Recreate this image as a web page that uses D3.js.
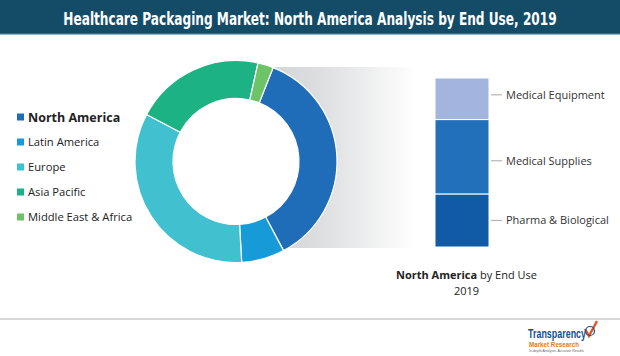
<!DOCTYPE html>
<html><head><meta charset="utf-8">
<script src="https://cdn.jsdelivr.net/npm/d3@7"></script>
<style>body{margin:0;background:#fff}svg{display:block}</style>
</head><body><div id="chart"></div>
<script>
const titleText = "Healthcare Packaging Market: North America Analysis by End Use, 2019";
const regions = ["North America", "Latin America", "Europe", "Asia Pacific", "Middle East & Africa"];
const regionShares = [36.2, 6.9, 33.6, 20.8, 2.5];
const regionColors = ["#1f6db8", "#169bd8", "#41c1d0", "#1cb284", "#6dc466"];
const endUses = ["Pharma & Biological", "Medical Supplies", "Medical Equipment"];
const endUseShares = [31.4, 44.0, 24.6];
const endUseColors = ["#105aa6", "#2170b9", "#a3b5de"];
const captionBold = "North America";
const captionRest = " by End Use";
const captionYear = "2019";

const W = 620, H = 356;
const svg = d3.select("#chart").append("svg").attr("width", W).attr("height", H);
const defs = svg.append("defs");

// Title bar
svg.append("rect").attr("x",0).attr("y",0).attr("width",W).attr("height",34).attr("fill","#144c67");
svg.append("rect").attr("x",0).attr("y",33).attr("width",W).attr("height",1.5).attr("fill","#2f6f8c");
const tg = svg.append("g").attr("transform","translate(310,24.5)");
const title = tg.append("text").attr("x",0).attr("y",0).attr("text-anchor","middle")
  .attr("fill","#fff").attr("font-family","'DejaVu Sans Condensed','Liberation Sans Narrow',Arial,sans-serif")
  .attr("font-weight","bold").attr("font-size",17.5)
  .text(titleText);
const tw = title.node().getComputedTextLength();
if (tw > 0) tg.attr("transform", `translate(310,24.5) scale(${494/tw},1)`);

// Donut geometry
const cx = 236, cy = 161.5, rOuter = 101, rInner = 63;

// Gray projection band
const grad = defs.append("linearGradient").attr("id","band").attr("x1","0").attr("x2","1").attr("y1","0").attr("y2","0");
grad.append("stop").attr("offset","0").attr("stop-color","#cfd0d3");
grad.append("stop").attr("offset","0.45").attr("stop-color","#dcdddf");
grad.append("stop").attr("offset","1").attr("stop-color","#ffffff");
svg.append("rect").attr("x",cx).attr("y",67).attr("width",180).attr("height",181).attr("fill","url(#band)");
svg.append("circle").attr("cx",cx).attr("cy",cy).attr("r",rInner).attr("fill","#fff");

// Donut
const startDeg = 21.6;
const pie = d3.pie().sort(null).value(d => d)
  .startAngle(startDeg*Math.PI/180).endAngle(startDeg*Math.PI/180 + 2*Math.PI);
const arc = d3.arc().innerRadius(rInner).outerRadius(rOuter);
const g = svg.append("g").attr("transform",`translate(${cx},${cy})`);
g.selectAll("path").data(pie(regionShares)).join("path")
  .attr("d",arc).attr("fill",(d,i)=>regionColors[i])
  .attr("stroke","#fff").attr("stroke-width",1.2);

// Legend
const legY = d3.scalePoint().domain(regions).range([117, 217]);
const leg = svg.append("g");
regions.forEach((r,i)=>{
  const y = legY(r);
  leg.append("rect").attr("x",17).attr("y",y-3.5).attr("width",7).attr("height",7).attr("fill",regionColors[i]);
  leg.append("text").attr("x",28).attr("y",y).attr("dy","0.36em")
    .attr("font-family","'Open Sans','Noto Sans',sans-serif")
    .attr("font-size", i===0 ? 12.5 : 11.2)
    .attr("font-weight", i===0 ? "bold" : "normal")
    .attr("fill","#222").text(r);
});

// Stacked bar
const barX = 435, barW = 54;
const yS = d3.scaleLinear().domain([0, d3.sum(endUseShares)]).range([247, 78]);
let acc = 0;
const stacks = endUseShares.map((v,i)=>{ const s={y0:acc,y1:acc+v,i}; acc+=v; return s; });
const bar = svg.append("g");
bar.selectAll("rect").data(stacks).join("rect")
  .attr("x",barX).attr("width",barW)
  .attr("y",d=>yS(d.y1)).attr("height",d=>yS(d.y0)-yS(d.y1))
  .attr("fill",d=>endUseColors[d.i]).attr("stroke","#fff").attr("stroke-width",1);
const labelOffsets = [0, 4, -4];
stacks.forEach(d=>{
  const y = (yS(d.y0)+yS(d.y1))/2 + labelOffsets[d.i];
  bar.append("line").attr("x1",491).attr("x2",502).attr("y1",y).attr("y2",y)
    .attr("stroke","#b5b5b5").attr("stroke-width",1.2);
  bar.append("text").attr("x",506).attr("y",y).attr("dy","0.36em")
    .attr("font-family","'Open Sans','Noto Sans',sans-serif").attr("font-size",11)
    .attr("fill","#333").text(endUses[d.i]);
});

// Caption
const cap = svg.append("text").attr("x",466.5).attr("y",275).attr("dy","0.36em").attr("text-anchor","middle")
  .attr("font-family","'Open Sans','Noto Sans',sans-serif").attr("font-size",11).attr("fill","#222");
cap.append("tspan").attr("font-weight","bold").text(captionBold);
cap.append("tspan").text(captionRest);
svg.append("text").attr("x",466.5).attr("y",291).attr("dy","0.36em").attr("text-anchor","middle")
  .attr("font-family","'Open Sans','Noto Sans',sans-serif").attr("font-size",11).attr("fill","#222").text(captionYear);

// Bottom rule
svg.append("line").attr("x1",0).attr("x2",W).attr("y1",319).attr("y2",319).attr("stroke","#b0b0b0").attr("stroke-width",1);

// Logo
const logo = svg.append("g");
logo.append("text").attr("x",528).attr("y",338).attr("font-family","'Liberation Sans Narrow',Arial,sans-serif")
  .attr("font-weight","bold").attr("font-size",12).attr("fill","#1b4f8a")
  .attr("textLength",58).attr("lengthAdjust","spacingAndGlyphs").text("Transparency");
logo.append("text").attr("x",529).attr("y",346.5).attr("font-family","'Liberation Sans Narrow',Arial,sans-serif")
  .attr("font-weight","bold").attr("font-size",8).attr("fill","#e07a22")
  .attr("textLength",50).attr("lengthAdjust","spacingAndGlyphs").text("Market Research");
logo.append("text").attr("x",529).attr("y",352).attr("font-family","Arial,sans-serif")
  .attr("font-size",3.5).attr("fill","#666").text("In-depth Analysis. Accurate Results");
logo.append("path").attr("d","M585,329 L589,336 L597,321").attr("fill","none")
  .attr("stroke","#e0592a").attr("stroke-width",2.5);
logo.append("circle").attr("cx",590).attr("cy",331).attr("r",4.5).attr("fill","none").attr("stroke","#1b4f8a").attr("stroke-width",1.2);
</script></body></html>
